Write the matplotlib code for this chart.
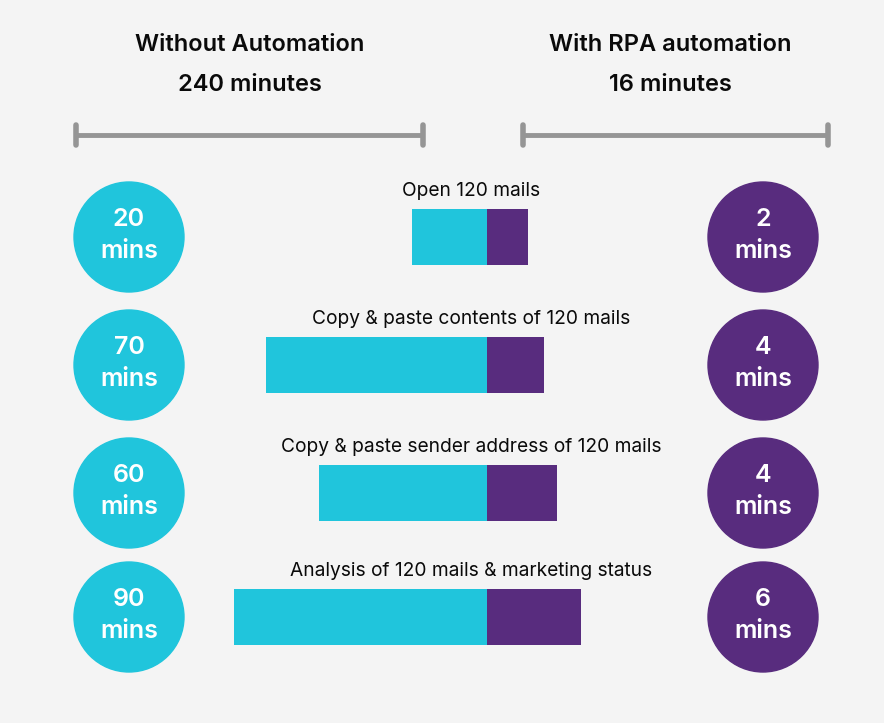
import matplotlib.pyplot as plt
from matplotlib.patches import Circle

# data
tasks = ["Open 120 mails",
         "Copy & paste contents of 120 mails",
         "Copy & paste sender address of 120 mails",
         "Analysis of 120 mails & marketing status"]
mins_manual = [20, 70, 60, 90]
mins_rpa = [2, 4, 4, 6]
# bar lengths as drawn (not to scale with the minutes)
bar_manual = [75, 221, 168, 253]
bar_rpa = [41, 57, 70, 94]
total_manual = 240
total_rpa = 16

CYAN = "#20c5dc"
PURPLE = "#582c7e"
GREY = "#959595"
BG = "#f4f4f4"
INK = "#0a0a0a"

plt.rcParams["font.family"] = ["Inter", "DejaVu Sans"]

fig = plt.figure(figsize=(8.84, 7.23), dpi=100, facecolor=BG)
ax = fig.add_axes([0, 0, 1, 1])
ax.set_xlim(0, 884)
ax.set_ylim(723, 0)
ax.axis("off")
ax.set_facecolor(BG)

# headers
hdr = dict(ha="center", va="center", fontsize=17, fontweight="semibold", color=INK)
ax.text(250, 45, "Without Automation", **hdr)
ax.text(250, 85, f"{total_manual} minutes", **hdr)
ax.text(670, 45, "With RPA automation", **hdr)
ax.text(670, 85, f"{total_rpa} minutes", **hdr)

# range brackets
for x0, x1 in [(76, 423), (523, 828)]:
    ax.plot([x0, x1], [135, 135], color=GREY, lw=3.5, solid_capstyle="butt")
    for xx in (x0, x1):
        ax.plot([xx, xx], [125, 145], color=GREY, lw=4, solid_capstyle="round")

rows = [237, 365, 493, 617]
split = 487
ax.barh(rows, [-b for b in bar_manual], left=split, height=56, color=CYAN)
ax.barh(rows, bar_rpa, left=split, height=56, color=PURPLE)

num = dict(ha="center", va="center", fontsize=18, fontweight="semibold", color="white")
for y, t, m, r in zip(rows, tasks, mins_manual, mins_rpa):
    ax.text(471, y - 46, t, ha="center", va="center", fontsize=13.8, color=INK)
    ax.add_patch(Circle((129, y), 55, color=CYAN))
    ax.add_patch(Circle((763, y), 55, color=PURPLE))
    ax.text(129, y - 17, str(m), **num)
    ax.text(129, y + 15, "mins", **num)
    ax.text(763, y - 17, str(r), **num)
    ax.text(763, y + 15, "mins", **num)

fig.savefig("out.png", dpi=100, facecolor=BG)
